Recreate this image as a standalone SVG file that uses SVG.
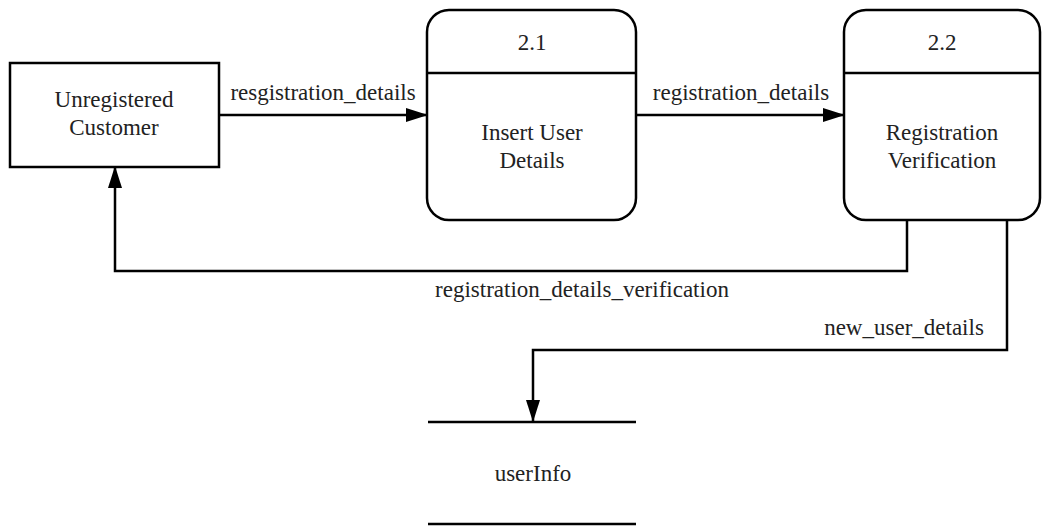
<svg xmlns="http://www.w3.org/2000/svg" width="1046" height="527" viewBox="0 0 1046 527">
  <style>
    .shape { fill: #ffffff; stroke: #000000; stroke-width: 2.5; }
    .line { fill: none; stroke: #000000; stroke-width: 2.5; }
    text { font-family: "Liberation Serif", "Times New Roman", serif; font-size: 23px; fill: #222222; text-anchor: middle; }
  </style>
  <defs>
    <marker id="arrow" viewBox="0 0 22 14" refX="21" refY="7" markerWidth="22" markerHeight="14" markerUnits="userSpaceOnUse" orient="auto">
      <path d="M0,0 L22,7 L0,14 Z" fill="#000000"/>
    </marker>
  </defs>
  <rect width="1046" height="527" fill="#ffffff"/>

  <g id="connectors">
    <path class="line" d="M219,115 L427,115" marker-end="url(#arrow)"/>
    <path class="line" d="M636,115 L844,115" marker-end="url(#arrow)"/>
    <path class="line" d="M907,220 L907,271 L115,271 L115,167" marker-end="url(#arrow)"/>
    <path class="line" d="M1007,220 L1007,350 L533,350 L533,421" marker-end="url(#arrow)"/>
    <text x="323" y="100">resgistration_details</text>
    <text x="741" y="100">registration_details</text>
    <text x="582" y="297">registration_details_verification</text>
    <text x="904" y="335">new_user_details</text>
  </g>

  <g id="unregistered-customer">
    <rect class="shape" x="10" y="63" width="209" height="104"/>
    <text x="114" y="107">Unregistered</text>
    <text x="114" y="135">Customer</text>
  </g>

  <g id="process-2-1">
    <rect class="shape" x="427" y="10" width="209" height="210" rx="22" ry="22"/>
    <line class="line" x1="427" y1="73" x2="636" y2="73"/>
    <text x="532" y="50">2.1</text>
    <text x="532" y="140">Insert User</text>
    <text x="532" y="168">Details</text>
  </g>

  <g id="process-2-2">
    <rect class="shape" x="844" y="10" width="196" height="210" rx="22" ry="22"/>
    <line class="line" x1="844" y1="73" x2="1040" y2="73"/>
    <text x="942" y="50">2.2</text>
    <text x="942" y="140">Registration</text>
    <text x="942" y="168">Verification</text>
  </g>

  <g id="userinfo-store">
    <line class="line" x1="428" y1="422" x2="636" y2="422"/>
    <line class="line" x1="428" y1="524" x2="636" y2="524"/>
    <text x="533" y="481">userInfo</text>
  </g>
</svg>
